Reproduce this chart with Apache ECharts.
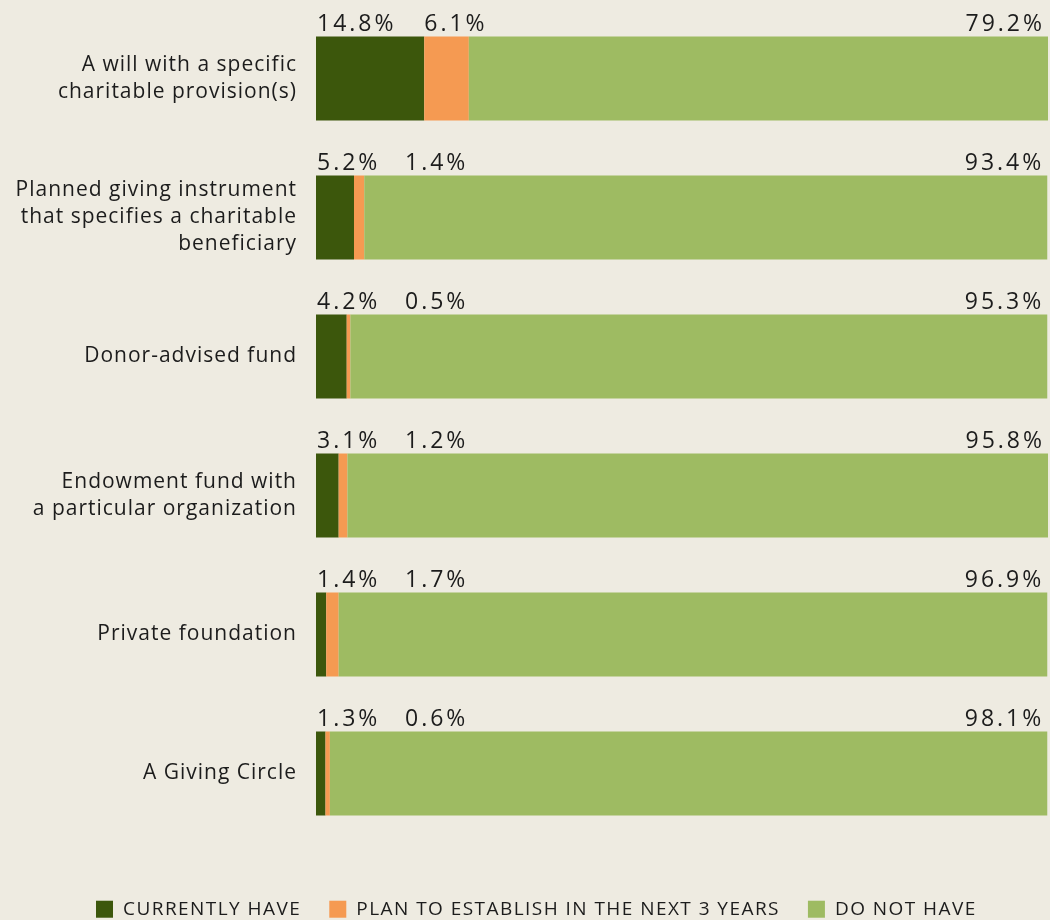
<!DOCTYPE html>
<html>
<head>
<meta charset="utf-8">
<script src="https://cdn.jsdelivr.net/npm/echarts@6/dist/echarts.min.js"></script>
<style>
  html, body { margin: 0; padding: 0; background: #eeebe1; }
  #chart { width: 1050px; height: 920px; }
</style>
</head>
<body>
<div id="chart"></div>
<script>
// chart data
const categories = [
  "A will with a specific\ncharitable provision(s)",
  "Planned giving instrument\nthat specifies a charitable\nbeneficiary",
  "Donor-advised fund",
  "Endowment fund with\na particular organization",
  "Private foundation",
  "A Giving Circle"
];
const currentlyHave = [14.8, 5.2, 4.2, 3.1, 1.4, 1.3];
const planToEstablish = [6.1, 1.4, 0.5, 1.2, 1.7, 0.6];
const doNotHave = [79.2, 93.4, 95.3, 95.8, 96.9, 98.1];
const seriesNames = ["CURRENTLY HAVE", "PLAN TO ESTABLISH IN THE NEXT 3 YEARS", "DO NOT HAVE"];

// canvas has no letter-spacing option in echarts, add a little by font size
const fontDesc = Object.getOwnPropertyDescriptor(CanvasRenderingContext2D.prototype, "font");
const spacingBySize = { 23: "3px", 21: "1px", 19: "1.45px" };
Object.defineProperty(CanvasRenderingContext2D.prototype, "font", {
  get() { return fontDesc.get.call(this); },
  set(v) {
    fontDesc.set.call(this, v);
    const m = /(\d+)px/.exec(v);
    this.letterSpacing = (m && spacingBySize[m[1]]) || "0px";
  }
});

const GRID_LEFT = 316;
const FONT = "'Open Sans', 'Noto Sans', sans-serif";
const valueLabel = {
  show: true,
  formatter: (p) => p.value.toFixed(1) + "%",
  color: "#1c1c1c",
  fontSize: 23,
  fontFamily: FONT
};

const chart = echarts.init(document.getElementById("chart"));
chart.setOption({
  backgroundColor: "#eeebe1",
  animation: false,
  grid: { left: GRID_LEFT, right: 2, top: 9, height: 834 },
  legend: {
    top: 899,
    left: 96,
    padding: 0,
    itemWidth: 17,
    itemHeight: 17,
    itemGap: 28,
    icon: "rect",
    textStyle: { fontSize: 19, color: "#1c1c1c", fontFamily: FONT, padding: [0, 0, 0, 5] },
    data: seriesNames
  },
  xAxis: {
    type: "value",
    min: 0,
    max: "dataMax",
    show: false
  },
  yAxis: {
    type: "category",
    inverse: true,
    data: categories,
    axisLine: { show: false },
    axisTick: { show: false },
    axisLabel: {
      margin: 19,
      fontSize: 21,
      lineHeight: 27,
      color: "#1c1c1c",
      fontFamily: FONT,
      align: "right"
    }
  },
  series: [
    {
      name: seriesNames[0],
      type: "bar",
      stack: "total",
      barWidth: 84,
      data: currentlyHave,
      itemStyle: { color: "#3c570c" },
      label: valueLabel,
      labelLayout: (p) => ({ x: p.rect.x + 1, y: p.rect.y + 1, align: "left", verticalAlign: "bottom" })
    },
    {
      name: seriesNames[1],
      type: "bar",
      stack: "total",
      barWidth: 84,
      data: planToEstablish,
      itemStyle: { color: "#f59a52" },
      label: valueLabel,
      labelLayout: (p) => ({
        x: Math.max(p.rect.x, GRID_LEFT + 89),
        y: p.rect.y + 1,
        align: "left",
        verticalAlign: "bottom"
      })
    },
    {
      name: seriesNames[2],
      type: "bar",
      stack: "total",
      barWidth: 84,
      data: doNotHave,
      itemStyle: { color: "#9ebb62" },
      label: valueLabel,
      labelLayout: (p) => ({
        x: p.rect.x + p.rect.width - 3,
        y: p.rect.y + 1,
        align: "right",
        verticalAlign: "bottom"
      })
    }
  ]
});
</script>
</body>
</html>
